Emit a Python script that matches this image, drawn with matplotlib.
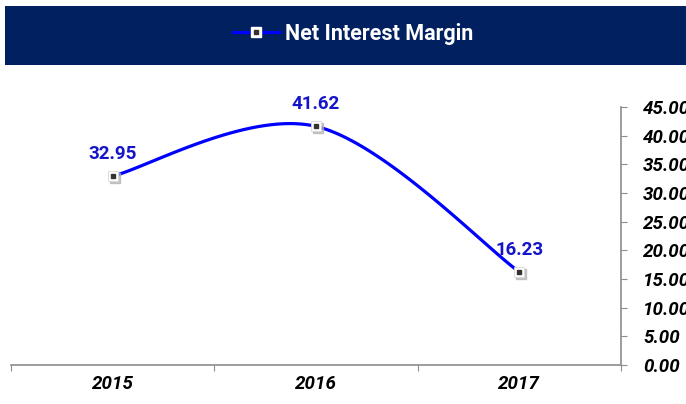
import numpy as np
import matplotlib
matplotlib.use("Agg")
import matplotlib.pyplot as plt
from matplotlib.patches import Rectangle
from matplotlib.lines import Line2D
from matplotlib import transforms

years = ["2015", "2016", "2017"]
nim = [32.95, 41.62, 16.23]
y_ticks = [0, 5, 10, 15, 20, 25, 30, 35, 40, 45]

NAVY = "#002060"
BLUE = "#0000FF"
LABEL_BLUE = "#1414C8"
GRID_GRAY = "#8C8C8C"

plt.rcParams["font.family"] = ["Roboto", "DejaVu Sans"]


def smooth_curve(xs, ys, n=60):
    # catmull-rom style bezier like excel's smoothed line
    xs = np.asarray(xs, float)
    ys = np.asarray(ys, float)
    px = np.concatenate([[xs[0]], xs, [xs[-1]]])
    py = np.concatenate([[ys[0]], ys, [ys[-1]]])
    out_x, out_y = [], []
    t = np.linspace(0, 1, n)
    for i in range(1, len(px) - 2):
        p0 = np.array([px[i], py[i]])
        p3 = np.array([px[i + 1], py[i + 1]])
        c1 = p0 + (np.array([px[i + 1], py[i + 1]]) - np.array([px[i - 1], py[i - 1]])) / 6
        c2 = p3 - (np.array([px[i + 2], py[i + 2]]) - np.array([px[i], py[i]])) / 6
        b = ((1 - t) ** 3)[:, None] * p0 + (3 * (1 - t) ** 2 * t)[:, None] * c1 \
            + (3 * (1 - t) * t ** 2)[:, None] * c2 + (t ** 3)[:, None] * p3
        out_x.extend(b[:, 0])
        out_y.extend(b[:, 1])
    return np.array(out_x), np.array(out_y)


fig = plt.figure(figsize=(6.86, 4.04), dpi=100)
fig.patches.append(Rectangle((5 / 686, 1 - 65 / 404), 1, 59 / 404, transform=fig.transFigure,
                             facecolor=NAVY, edgecolor="none", zorder=0))

ax = fig.add_axes([11 / 686, 1 - 365 / 404, 610 / 686, 258 / 404])
x = np.arange(len(years))
sx, sy = smooth_curve(x, nim)
ax.plot(sx, sy, color=BLUE, linewidth=2.3, solid_capstyle="round", zorder=2)

# marker shadow, then white box with a dark dot
shadow = transforms.offset_copy(ax.transData, fig=fig, x=1.5, y=-1.5, units="points")
ax.plot(x, nim, "s", markersize=7, color="#b0b0b0", alpha=0.7, transform=shadow, zorder=3)
ax.plot(x, nim, "s", markersize=6.5, markerfacecolor="white", markeredgecolor="#d8d8d8",
        markeredgewidth=0.6, linestyle="none", zorder=4)
ax.plot(x, nim, "s", markersize=2.2, color="#333333", linestyle="none", zorder=5)

for xi, v in zip(x, nim):
    ax.annotate(f"{v:.2f}", (xi, v), xytext=(0, 9.5), textcoords="offset points",
                ha="center", va="bottom", fontsize=13.5, fontweight="bold",
                color=LABEL_BLUE)

ax.set_xlim(-0.5, len(years) - 0.5)
ax.set_ylim(0, 45)
ax.set_xticks(np.arange(-0.5, len(years)), minor=False)
ax.set_xticklabels([])
ax.set_xticks(x, minor=True)
ax.set_xticklabels(years, minor=True, fontsize=13.5, fontweight="bold", style="italic")
ax.tick_params(axis="x", which="major", length=4, color=GRID_GRAY, direction="out")
ax.tick_params(axis="x", which="minor", length=0, pad=7)

ax.yaxis.tick_right()
ax.set_yticks(y_ticks)
ax.set_yticklabels([f"{t:.2f}" for t in y_ticks], fontsize=13.5, fontweight="bold", style="italic")
ax.tick_params(axis="y", length=4, color=GRID_GRAY, pad=12)

for side in ["top", "left"]:
    ax.spines[side].set_visible(False)
for side in ["bottom", "right"]:
    ax.spines[side].set_color(GRID_GRAY)
    ax.spines[side].set_linewidth(1.2)

h_line = Line2D([], [], color=BLUE, linewidth=2.3, marker="s", markersize=7,
                markerfacecolor="white", markeredgecolor="white")
h_dot = Line2D([], [], linestyle="none", marker="s", markersize=2.5, color="#333333")
fig.legend([(h_line, h_dot)], ["Net Interest Margin"], loc="center",
           bbox_to_anchor=(0.515, 1 - 34 / 404),
           frameon=False, labelcolor="white", prop={"size": 15.5, "weight": "bold"},
           handlelength=2.1, handletextpad=0.3)

fig.savefig("out.png", dpi=100)
